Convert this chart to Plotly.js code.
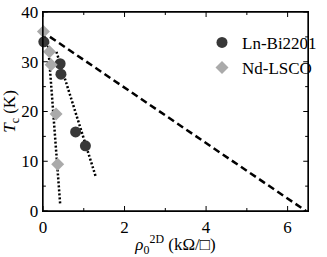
<!DOCTYPE html>
<html><head><meta charset="utf-8">
<script src="https://cdn.plot.ly/plotly-3.0.1.min.js"></script>
<style>body{margin:0;padding:0;background:#fff}#plot{width:327px;height:257px}</style>
</head><body><div id="plot"></div>
<script>
const bi_x = [0.02, 0.42, 0.44, 0.80, 1.04];
const bi_y = [34.0, 29.6, 27.5, 15.9, 13.1];
const lsco_x = [0.01, 0.16, 0.20, 0.32, 0.36];
const lsco_y = [36.1, 32.0, 29.4, 19.5, 9.4];
const biFit_x = [0.33, 1.29];
const biFit_y = [32.0, 7.0];
const lscoFit_x = [0.12, 0.42];
const lscoFit_y = [34.0, 1.5];
const dash_x = [0.17, 6.45];
const dash_y = [35.0, 0.0];
const xTicks = [0, 2, 4, 6];
const xMinor = [1, 3, 5];
const yTicks = [0, 10, 20, 30, 40];
const yMinor = [5, 15, 25, 35];
const xRange = [0, 6.5];
const yRange = [0, 40];

const font = {family: 'Liberation Serif, Times New Roman, serif', color: '#000', size: 17};
const traces = [
  {x: dash_x, y: dash_y, mode: 'lines', line: {color: '#000', width: 2.5, dash: '7px,4px'}, showlegend: false},
  {x: biFit_x, y: biFit_y, mode: 'lines', line: {color: '#000', width: 2.5, dash: '2px,2px'}, showlegend: false},
  {x: lscoFit_x, y: lscoFit_y, mode: 'lines', line: {color: '#000', width: 2.5, dash: '2px,2px'}, showlegend: false},
  {x: bi_x, y: bi_y, mode: 'markers', name: 'Ln-Bi2201', marker: {symbol: 'circle', size: 11, color: '#383838'}, cliponaxis: false},
  {x: lsco_x, y: lsco_y, mode: 'markers', name: 'Nd-LSCO', marker: {symbol: 'diamond', size: 10, color: '#aaaaaa'}, cliponaxis: false}
];

// frame and inward ticks as shapes (axis lines are not rendered in this environment)
const W = 327 - 43 - 5, H = 257 - 12 - 46;
const shapes = [{type: 'rect', xref: 'paper', yref: 'paper', x0: 0, x1: 1, y0: 0, y1: 1, line: {color: '#000', width: 1.3}, layer: 'above'}];
function xTick(v, len) {
  const f = len / H;
  shapes.push({type: 'line', xref: 'x', yref: 'paper', x0: v, x1: v, y0: 0, y1: f, line: {color: '#000', width: 1}});
  shapes.push({type: 'line', xref: 'x', yref: 'paper', x0: v, x1: v, y0: 1, y1: 1 - f, line: {color: '#000', width: 1}});
}
function yTick(v, len) {
  const f = len / W;
  shapes.push({type: 'line', xref: 'paper', yref: 'y', x0: 0, x1: f, y0: v, y1: v, line: {color: '#000', width: 1}});
  shapes.push({type: 'line', xref: 'paper', yref: 'y', x0: 1, x1: 1 - f, y0: v, y1: v, line: {color: '#000', width: 1}});
}
xTicks.forEach(v => xTick(v, 5)); xMinor.forEach(v => xTick(v, 3));
yTicks.forEach(v => yTick(v, 5)); yMinor.forEach(v => yTick(v, 3));

function ax(extra) {
  return Object.assign({showgrid: false, zeroline: false, showline: true, linecolor: 'black', linewidth: 1.3,
    mirror: true, ticks: '', tickfont: font}, extra);
}
const layout = {
  width: 327, height: 257,
  margin: {l: 43, r: 5, t: 12, b: 46},
  paper_bgcolor: 'white', plot_bgcolor: 'white',
  font: font,
  xaxis: ax({range: xRange, tickmode: 'array', tickvals: xTicks,
    title: {text: '<i>ρ</i><sub>0</sub><sup>2D</sup> (kΩ/□)', font: font, standoff: 4}}),
  yaxis: ax({range: yRange, tickmode: 'array', tickvals: yTicks,
    title: {text: '<i>T</i><sub>c</sub> (K)', font: font, standoff: 3}}),
  shapes: shapes,
  legend: {x: 0.6, y: 0.935, xanchor: 'left', yanchor: 'top', bgcolor: 'rgba(0,0,0,0)', font: font, tracegroupgap: 0, itemwidth: 20},
  showlegend: true
};
Plotly.newPlot('plot', traces, layout, {staticPlot: true});
</script></body></html>
